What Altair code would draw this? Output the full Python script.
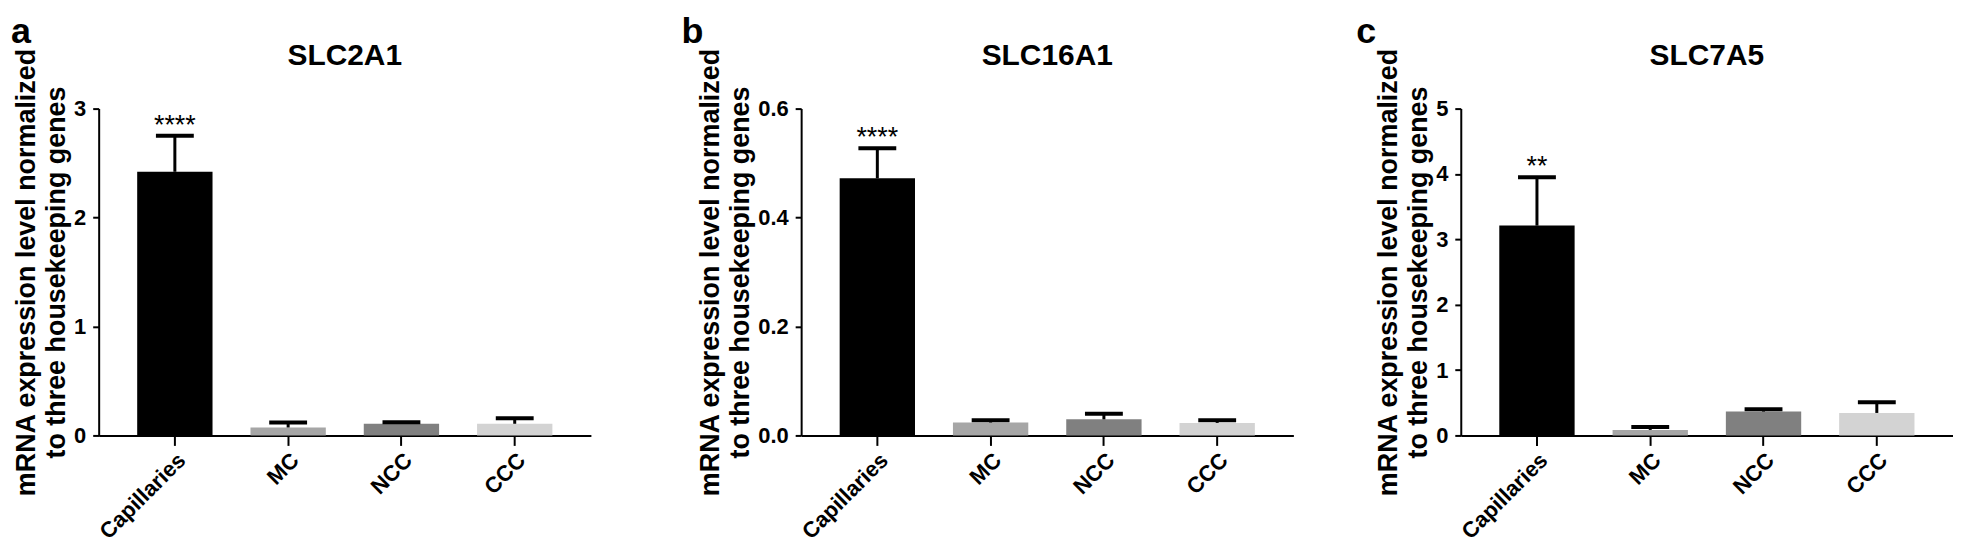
import altair as alt
import pandas as pd

FONT = "Liberation Sans"

categories = ["Capillaries", "MC", "NCC", "CCC"]
bar_colors = ["#000000", "#a6a6a6", "#808080", "#d3d3d3"]

# panel a: SLC2A1
a_mean = [2.42, 0.073, 0.107, 0.107]
a_top = [2.75, 0.118, 0.121, 0.158]
a_sig = ["****", "", "", ""]
a_ticks = [0, 1, 2, 3]

# panel b: SLC16A1
b_mean = [0.472, 0.0237, 0.0296, 0.023]
b_top = [0.527, 0.028, 0.040, 0.028]
b_sig = ["****", "", "", ""]
b_ticks = [0.0, 0.2, 0.4, 0.6]

# panel c: SLC7A5
c_mean = [3.21, 0.084, 0.365, 0.344]
c_top = [3.95, 0.128, 0.40, 0.506]
c_sig = ["**", "", "", ""]
c_ticks = [0, 1, 2, 3, 4, 5]

y_title = ["mRNA expression level normalized", "to three housekeeping genes"]

W = 494
H = 328


def panel(letter, gene, mean, top, sig, ticks, fmt, letter_x, bound_x):
    df = pd.DataFrame({"cat": categories, "mean": mean, "top": top, "sig": sig})
    base = alt.Chart(df)
    xaxis = alt.Axis(title=None, labelAngle=-45, labelFontSize=22, labelFontWeight="bold",
                     labelColor="black", labelPadding=4, tickSize=10, tickWidth=2,
                     tickColor="black", domainColor="black", domainWidth=2, labelFont=FONT)
    xenc = alt.X("cat:N", sort=categories,
                 scale=alt.Scale(paddingInner=0.335, paddingOuter=0.34), axis=xaxis)
    yscale = alt.Scale(domain=[0, max(ticks)], nice=False, zero=True)
    yaxis = alt.Axis(title=y_title, values=ticks, format=fmt, grid=False,
                     labelFontSize=22, labelFontWeight="bold", labelColor="black",
                     labelFont=FONT, labelPadding=7, labelFlush=False, tickSize=6,
                     tickWidth=2, tickColor="black", domainColor="black", domainWidth=2,
                     titleFont=FONT, titleFontSize=27, titleFontWeight="bold",
                     titleColor="black", titleLineHeight=30, titlePadding=3)
    bars = base.mark_bar().encode(
        x=xenc,
        y=alt.Y("mean:Q", scale=yscale, axis=yaxis),
        color=alt.Color("cat:N", scale=alt.Scale(domain=categories, range=bar_colors), legend=None),
    )
    stems = base.mark_rule(color="black", strokeWidth=3).encode(
        x=xenc, y=alt.Y("mean:Q", scale=yscale, axis=yaxis), y2="top:Q")
    caps = base.mark_tick(color="black", thickness=4, size=38, opacity=1).encode(
        x=xenc, y=alt.Y("top:Q", scale=yscale, axis=yaxis))
    stars = base.mark_text(font=FONT, fontSize=27, color="black", baseline="alphabetic",
                           dy=-2).encode(
        x=xenc, y=alt.Y("top:Q", scale=yscale, axis=yaxis), text="sig:N")
    one = alt.Chart(pd.DataFrame({"t": [gene], "l": [letter]}))
    title = one.mark_text(font=FONT, fontSize=30, fontWeight="bold", color="black",
                          align="center", baseline="alphabetic").encode(
        x=alt.value(W / 2), y=alt.value(-44), text="t:N")
    lett = one.mark_text(font=FONT, fontSize=36, fontWeight="bold", color="black",
                         align="left", baseline="top").encode(
        x=alt.value(letter_x), y=alt.value(-94), text="l:N")
    bound = one.mark_rule(color="white", strokeWidth=1).encode(
        x=alt.value(bound_x), y=alt.value(-99), y2=alt.value(0))
    return alt.layer(bars, stems, caps, stars, title, lett, bound).properties(width=W, height=H)


pa = panel("a", "SLC2A1", a_mean, a_top, a_sig, a_ticks, "d", -88, -90)
pb = panel("b", "SLC16A1", b_mean, b_top, b_sig, b_ticks, ".1f", -120, -200)
pc = panel("c", "SLC7A5", c_mean, c_top, c_sig, c_ticks, "d", -105, -157)

chart = alt.hconcat(pa, pb, pc, spacing=10).properties(padding=0).configure_view(stroke=None)

chart.save("out.html", embed_options={"renderer": "svg", "actions": False})
